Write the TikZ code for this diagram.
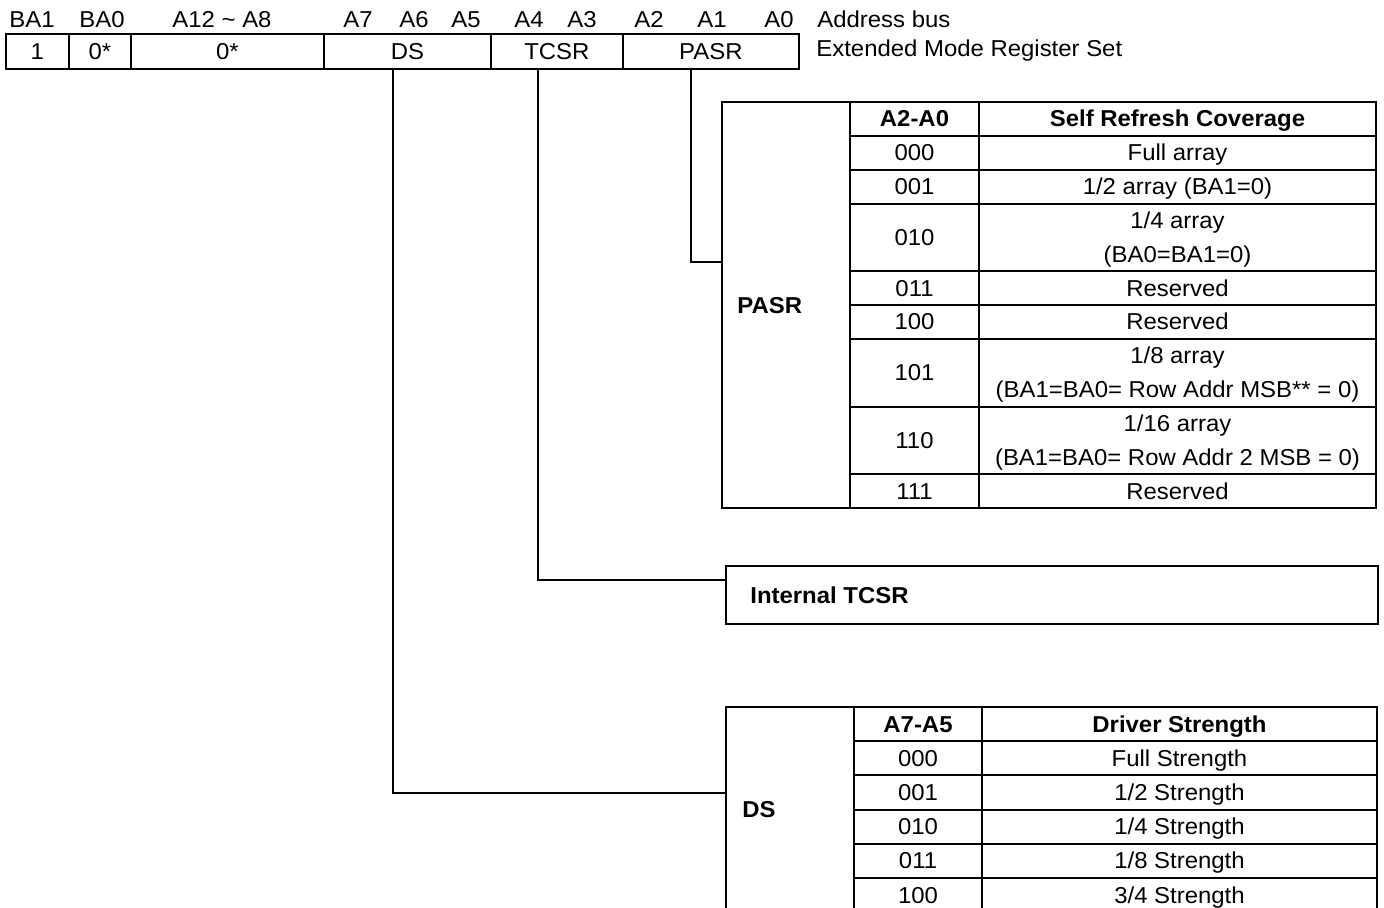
\documentclass[tikz,border=0pt]{standalone}
\usepackage{fontspec}
\setmainfont[FakeStretch=1.04]{Liberation Sans}
\usetikzlibrary{positioning}

\begin{document}
\begin{tikzpicture}[
      x=0.5pt, y=-0.5pt,
      font=\fontsize{11.5}{12}\selectfont,
      fld/.style={draw, line width=0.9pt, anchor=north west,
                  minimum height=17.5pt, inner sep=0pt},
      lbl/.style={anchor=base, inner sep=0pt},
      tbl/.style={line width=1.1pt},
      wire/.style={line width=0.7pt},
      cell/.style={anchor=base, inner sep=0pt},
      hdr/.style={font=\fontsize{11.5}{12}\selectfont\bfseries,
                  anchor=base, inner sep=0pt}
    ]
    \useasboundingbox (0,0) rectangle (1384,908);
    \clip (0,0) rectangle (1384,908);

    % register fields
    \node[fld, minimum width=31.5pt] (fBA1) at (5,33)   {1};
    \node[fld, minimum width=31pt]   (fBA0) at (68,33)  {0*};
    \node[fld, minimum width=96.5pt] (fA12) at (130,33) {0*};
    \node[fld, minimum width=83.5pt] (fDS)  at (323,33) {DS};
    \node[fld, minimum width=66pt]   (fTC)  at (490,33) {TCSR};
    \node[fld, minimum width=88pt]   (fPA)  at (622,33) {PASR};

    % address bus labels
    \foreach \x/\t [count=\i] in {32/BA1, 102/BA0, 222/A12 \textasciitilde{} A8,
        358/A7, 414/A6, 466/A5, 529/A4, 582/A3, 649/A2, 712/A1, 779/A0}
      \node[lbl] (bus\i) at (\x,28) {\t};
    \node[lbl, anchor=base west] (busName) at (817,28) {Address bus};
    \node[lbl, anchor=base west] (emrsName) at (816,57) {Extended Mode Register Set};

    % PASR table (row unit 33.83)
    \draw[tbl] (722,102) rectangle (1376,508);
    \draw[tbl] (850,102) -- (850,508) (979,102) -- (979,508);
    \foreach \y in {136,170,204,271,305,339,407,474}
      \draw[tbl] (850,\y) -- (1376,\y);
    \node[hdr, anchor=west] (pasrName) at (737,306) {PASR};
    \node[hdr] (pasrH1) at (914.5,127) {A2-A0};
    \node[hdr] (pasrH2) at (1177.5,127) {Self Refresh Coverage};
    \foreach \k/\c [count=\i] in {1/000, 2/001, 3.5/010, 5/011, 6/100,
        7.5/101, 9.5/110, 11/111}
      \node[cell] (pc\i) at (914.5,{110+(\k+0.5)*33.83}) {\c};
    \foreach \k/\d [count=\i] in {1/{Full array}, 2/{1/2 array (BA1=0)},
        3/{1/4 array}, 4/{(BA0=BA1=0)}, 5/{Reserved}, 6/{Reserved},
        7/{1/8 array}, 8/{(BA1=BA0= Row Addr MSB** = 0)},
        9/{1/16 array}, 10/{(BA1=BA0= Row Addr 2 MSB = 0)}, 11/{Reserved}}
      \node[cell] (pd\i) at (1177.5,{110+(\k+0.5)*33.83}) {\d};

    % TCSR box
    \draw[tbl] (726,566) rectangle (1378,624);
    \node[hdr, anchor=west] (tcsrName) at (750,595) {Internal TCSR};

    % DS table (row unit 34.2)
    \draw[tbl] (726,930) -- (726,707) -- (1377,707) -- (1377,930);
    \draw[tbl] (854,707) -- (854,930) (982,707) -- (982,930);
    \foreach \y in {741,775,810,844,878,912}
      \draw[tbl] (854,\y) -- (1377,\y);
    \node[hdr, anchor=west] (dsName) at (742,810) {DS};
    \node[hdr] (dsH1) at (918,732) {A7-A5};
    \node[hdr] (dsH2) at (1179.5,732) {Driver Strength};
    \foreach \k/\c/\d [count=\i] in {
        1/000/{Full Strength},
        2/001/{1/2 Strength},
        3/010/{1/4 Strength},
        4/011/{1/8 Strength},
        5/100/{3/4 Strength}}
    {
      \node[cell] (dc\i) at (918,{715+(\k+0.5)*34.2}) {\c};
      \node[cell] (dd\i) at (1179.5,{715+(\k+0.5)*34.2}) {\d};
    }

    % connectors
    \coordinate (dsTap)   at (393,68);
    \coordinate (dsIn)    at (726,793);
    \coordinate (tcTap)   at (538,68);
    \coordinate (tcIn)    at (726,580);
    \coordinate (paTap)   at (691,68);
    \coordinate (paIn)    at (722,262);
    \draw[wire] (dsTap) |- (dsIn);
    \draw[wire] (tcTap) |- (tcIn);
    \draw[wire] (paTap) |- (paIn);
  \end{tikzpicture}
\end{document}
